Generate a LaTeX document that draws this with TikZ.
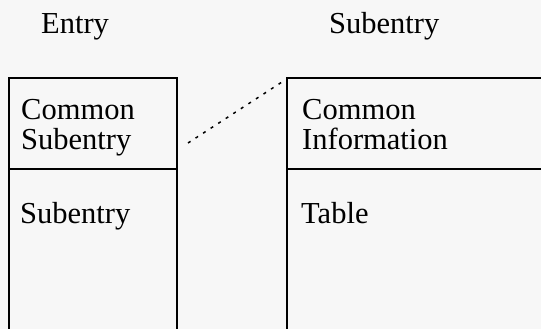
\documentclass[tikz,border=0pt]{standalone}
\usepackage{fontspec}
\setmainfont{Liberation Serif}
\usetikzlibrary{positioning}

\tikzset{
  label/.style={inner sep=0pt,anchor=base west,align=left,
    font=\fontsize{30.5}{30}\selectfont},
  wall/.style={line width=1.7pt},
  link/.style={line width=1.5pt,dash pattern=on 3pt off 6pt}
}

\begin{document}
\begin{tikzpicture}[x=1pt,y=-1pt]
        \fill[black!3] (0,0) rectangle (541,329);
        \useasboundingbox (0,0) rectangle (541,329);

        % titles
        \node[label] (TE) at (41,34)  {Entry};
        \node[label] (TS) at (329,34) {Subentry};

        % entry box
        \draw[wall] (9,340) -- (9,78) -- (177,78) -- (177,340);
        \draw[wall] (9,169) -- (177,169);
        \node[label] (E1) at (21,149)  {Common\\Subentry};
        \node[label] (E2) at (20,223)  {Subentry};

        % subentry box
        \draw[wall] (287,340) -- (287,78) -- (545,78);
        \draw[wall] (287,169) -- (545,169);
        \node[label] (S1) at (302,149) {Common\\Information};
        \node[label] (S2) at (301,223) {Table};

        \coordinate (A) at (188,143);
        \coordinate (B) at (282,82);
        \draw[link] (A) -- (B);
      \end{tikzpicture}
\end{document}
